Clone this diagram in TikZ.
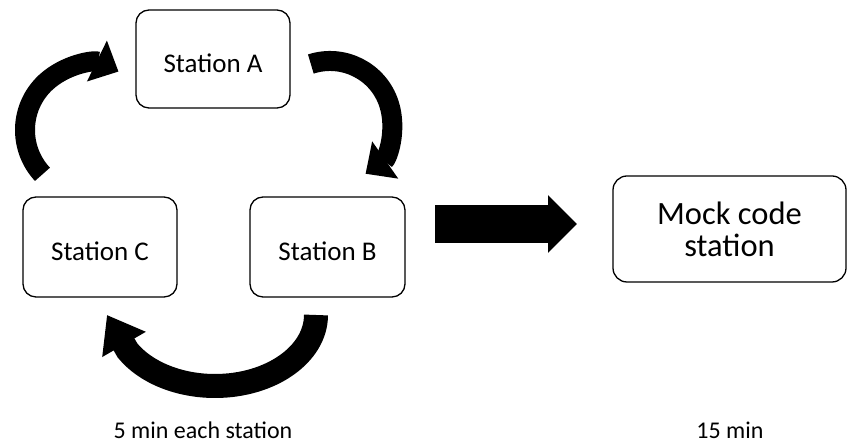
\documentclass[tikz,border=0pt]{standalone}
\usepackage{fontspec}
\setmainfont{Carlito}
\usetikzlibrary{arrows.meta}
\tikzset{
  stationbox/.style={draw=black, line width=1.3pt, rounded corners=13pt,
    align=center, inner sep=0pt, text height=27pt, text depth=0pt,
    font=\fontsize{27}{31}\selectfont},
  mockbox/.style={draw=black, line width=1.3pt, rounded corners=14pt,
    align=center, inner sep=0pt, font=\fontsize{32.5}{32}\selectfont},
  curvearrow/.style={line width=20pt, -{Triangle[width=44pt,length=24pt]}},
  bottomarrow/.style={line width=24pt, -{Triangle[width=48pt,length=34pt]}},
  bigarrow/.style={line width=38pt, -{Triangle[width=56pt,length=29pt]}},
  note/.style={font=\fontsize{24}{28}\selectfont, anchor=base, inner sep=0pt}
}
\begin{document}
\begin{tikzpicture}[x=1pt,y=1pt]
\useasboundingbox (0,0) rectangle (847,446);
% stations
\node[stationbox, minimum width=154pt, minimum height=98pt] (A) at (213,387) {Station A};
\node[stationbox, minimum width=154pt, minimum height=100pt] (C) at (100,199) {Station C};
\node[stationbox, minimum width=155pt, minimum height=100pt] (B) at (327.5,199) {Station B};
\node[mockbox, minimum width=233pt, minimum height=106pt] (M) at (729.5,217) {Mock code\\station};
% curved arrows
\coordinate (tlS) at ({90+65*cos(223)},{316+65*sin(223)});
\draw[curvearrow] (tlS) arc[start angle=223, end angle=64, radius=65];
\coordinate (trS) at ({330+62*cos(108)},{323+62*sin(108)});
\draw[curvearrow] (trS) arc[start angle=108, end angle=-55, radius=62];
\coordinate (btS) at (316,131);
\coordinate (btE) at (107,131);
\draw[bottomarrow] (btS) arc[start angle=0, end angle=-150, x radius=101, y radius=71] -- (btE);
% big arrow
\coordinate (bigS) at (435,222);
\coordinate (bigE) at (577,222);
\draw[bigarrow] (bigS) -- (bigE);
% notes
\node[note] (n1) at (203,7) {5 min each station};
\node[note] (n2) at (730,7) {15 min};
\end{tikzpicture}
\end{document}
